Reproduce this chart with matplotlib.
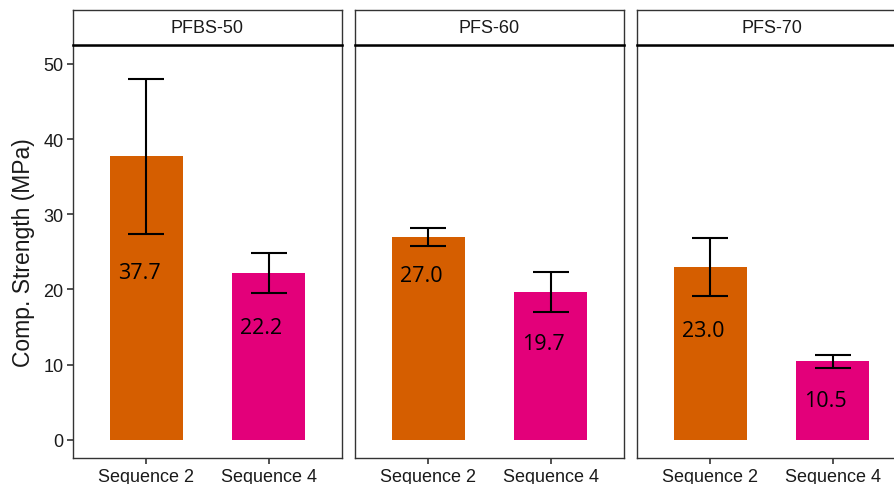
import numpy as np
import matplotlib
matplotlib.use("Agg")
import matplotlib.pyplot as plt

plt.rcParams['font.family'] = ['Liberation Sans', 'DejaVu Sans']

# data
panels = ["PFBS-50", "PFS-60", "PFS-70"]
sequences = ["Sequence 2", "Sequence 4"]
strength = [[37.7, 22.2], [27.0, 19.7], [23.0, 10.5]]
err_low = [[27.4, 19.5], [25.8, 17.0], [19.1, 9.6]]
err_high = [[48.0, 24.9], [28.2, 22.3], [26.8, 11.3]]
label_y = [[22.3, 15.0], [21.8, 12.8], [14.5, 5.3]]
colors = ["#D55E00", "#E3007A"]

W, H = 894, 485
fig = plt.figure(figsize=(W / 100, H / 100), dpi=100)

panel_left = [73, 355, 637]
panel_w = 269
panel_top, panel_bot = 46, 459
strip_top = 11

for i, name in enumerate(panels):
    x0 = panel_left[i] / W
    ax = fig.add_axes([x0, (H - panel_bot) / H, panel_w / W, (panel_bot - panel_top) / H])
    xs = np.arange(1, 3)
    vals = np.array(strength[i])
    ax.bar(xs, vals, width=0.6, color=colors, zorder=2)
    lo = vals - np.array(err_low[i])
    hi = np.array(err_high[i]) - vals
    ax.errorbar(xs, vals, yerr=[lo, hi], fmt="none", ecolor="black",
                elinewidth=1.5, capsize=13, capthick=1.5, zorder=3)
    for j in range(2):
        ax.text(xs[j] - 0.06, label_y[i][j], f"{strength[i][j]:.1f}",
                ha="center", va="center", fontsize=15.5, family="Open Sans",
                color="black", zorder=4)
    ax.set_xlim(0.4, 2.6)
    ax.set_ylim(-2.4, 52.5)
    ax.set_xticks(xs)
    ax.set_xticklabels(sequences, fontsize=13, color="#1a1a1a")
    ax.set_yticks([0, 10, 20, 30, 40, 50])
    if i == 0:
        ax.set_yticklabels(["0", "10", "20", "30", "40", "50"], fontsize=13, color="#1a1a1a")
        ax.set_ylabel("Comp. Strength (MPa)", fontsize=16.5, color="#1a1a1a", labelpad=6)
    else:
        ax.tick_params(axis="y", left=False, labelleft=False)
    ax.tick_params(axis="both", length=4, width=1.2, color="#333333", pad=3)
    for sp in ax.spines.values():
        sp.set_color("#333333")
        sp.set_linewidth(1.0)

    # facet strip
    sax = fig.add_axes([x0, (H - panel_top) / H, panel_w / W, (panel_top - strip_top) / H])
    sax.set_xticks([])
    sax.set_yticks([])
    for sp in sax.spines.values():
        sp.set_color("#333333")
        sp.set_linewidth(1.0)
    sax.spines["bottom"].set_color("black")
    sax.spines["bottom"].set_linewidth(1.8)
    sax.text(0.5, 0.5, name, ha="center", va="center", fontsize=13,
             color="#1a1a1a", transform=sax.transAxes)

fig.savefig("out.png", dpi=100)
